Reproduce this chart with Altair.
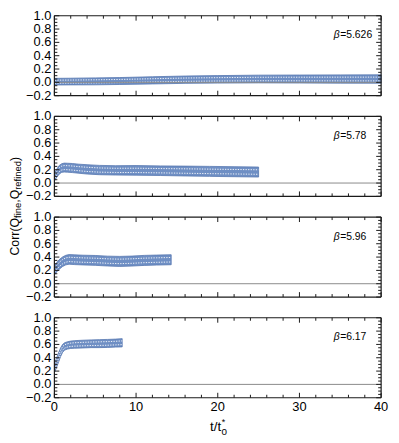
import altair as alt
import pandas as pd

# ---------------- data ----------------
betas = ["5.626", "5.78", "5.96", "6.17"]

t1 = [0.05, 2, 5, 8, 12, 16, 20, 25, 30, 35, 40]
m1 = [0.01, 0.012, 0.015, 0.02, 0.03, 0.04, 0.045, 0.05, 0.05, 0.05, 0.05]
e1 = [0.05, 0.05, 0.052, 0.052, 0.054, 0.055, 0.056, 0.058, 0.06, 0.062, 0.063]

t2 = [0.05, 0.3, 0.6, 0.9, 1.2, 1.6, 2.2, 3, 4, 5.5, 7.5, 10, 13, 16, 19, 22, 25]
m2 = [0.10, 0.15, 0.20, 0.225, 0.232, 0.23, 0.225, 0.215, 0.205, 0.195, 0.19,
      0.19, 0.185, 0.18, 0.175, 0.17, 0.165]
e2 = [0.06, 0.06, 0.065, 0.065, 0.067, 0.067, 0.068, 0.068, 0.07, 0.07, 0.07,
      0.072, 0.072, 0.074, 0.075, 0.075, 0.075]

t3 = [0.05, 0.3, 0.6, 1.0, 1.4, 1.8, 2.5, 3.5, 5, 6.5, 8, 9.5, 11, 12.5, 14.3]
m3 = [0.21, 0.25, 0.29, 0.33, 0.355, 0.365, 0.36, 0.355, 0.35, 0.34, 0.335,
      0.34, 0.35, 0.355, 0.36]
e3 = [0.07, 0.07, 0.072, 0.072, 0.072, 0.072, 0.073, 0.073, 0.074, 0.074,
      0.075, 0.075, 0.075, 0.075, 0.075]

t4 = [0.05, 0.25, 0.5, 0.75, 1.0, 1.25, 1.6, 2.0, 2.5, 3.5, 4.5, 5.5, 6.5, 7.5, 8.3]
m4 = [0.26, 0.32, 0.40, 0.48, 0.54, 0.57, 0.585, 0.595, 0.60, 0.605, 0.61,
      0.612, 0.615, 0.62, 0.625]
e4 = [0.07, 0.07, 0.07, 0.065, 0.06, 0.055, 0.055, 0.055, 0.057, 0.058, 0.058,
      0.06, 0.06, 0.06, 0.062]

x_major = [0, 10, 20, 30, 40]
x_minor = [2, 4, 6, 8, 12, 14, 16, 18, 22, 24, 26, 28, 32, 34, 36, 38]
y_major = [-0.2, 0.0, 0.2, 0.4, 0.6, 0.8, 1.0]
y_minor = [-0.15, -0.1, -0.05, 0.05, 0.1, 0.15, 0.25, 0.3, 0.35, 0.45, 0.5,
           0.55, 0.65, 0.7, 0.75, 0.85, 0.9, 0.95]

# ---------------- styling / layout ----------------
FONT = "Liberation Sans"
W = 331
PH = 81
GAP = 21
FR = "#1a1a1a"
BAND_FILL = "#6f8fc4"
BAND_STROKE = "#5677b0"

xs = alt.Scale(domain=[0, 40], nice=False, zero=False)
one = alt.Chart(pd.DataFrame({"d": [0]}))


def panel(i, t, m, e, beta):
    top = i * (PH + GAP)
    ys = alt.Scale(domain=[-0.2, 1.0], range=[top + PH, top], nice=False, zero=False)
    df = pd.DataFrame({"t": t, "m": m, "e": e})
    base = alt.Chart(df).transform_calculate(
        lo="datum.m - datum.e", hi="datum.m + datum.e",
        wl="datum.m - 0.45 * datum.e", wh="datum.m + 0.45 * datum.e")
    band = base.mark_area(color=BAND_FILL, stroke=BAND_STROKE, strokeWidth=0.8).encode(
        x=alt.X("t:Q", scale=xs, axis=None),
        y=alt.Y("lo:Q", scale=ys, axis=None),
        y2="hi:Q")
    dl = base.mark_line(color="white", strokeWidth=1, strokeDash=[1.3, 1.3], opacity=0.9).encode(
        x=alt.X("t:Q", axis=None), y=alt.Y("wl:Q", axis=None))
    dh = base.mark_line(color="white", strokeWidth=1, strokeDash=[1.3, 1.3], opacity=0.9).encode(
        x=alt.X("t:Q", axis=None), y=alt.Y("wh:Q", axis=None))
    zero = one.mark_rule(color="#8a8a8a", strokeWidth=1).encode(
        x=alt.value(0), x2=alt.value(W), y=alt.YDatum(0, axis=None))

    layers = [band, dl, dh, zero]
    # inward ticks
    for vals, ln in [(x_major, 5), (x_minor, 3)]:
        c = alt.Chart(pd.DataFrame({"v": vals}))
        layers.append(c.mark_rule(color=FR, strokeWidth=1, y2Offset=-ln).encode(
            x=alt.X("v:Q", axis=None), y=alt.YDatum(-0.2, axis=None), y2=alt.Y2Datum(-0.2)))
        layers.append(c.mark_rule(color=FR, strokeWidth=1, y2Offset=ln).encode(
            x=alt.X("v:Q", axis=None), y=alt.YDatum(1.0, axis=None), y2=alt.Y2Datum(1.0)))
    for vals, ln in [(y_major, 5), (y_minor, 3)]:
        c = alt.Chart(pd.DataFrame({"v": vals}))
        layers.append(c.mark_rule(color=FR, strokeWidth=1).encode(
            y=alt.Y("v:Q", axis=None), x=alt.value(0), x2=alt.value(ln)))
        layers.append(c.mark_rule(color=FR, strokeWidth=1).encode(
            y=alt.Y("v:Q", axis=None), x=alt.value(W), x2=alt.value(W - ln)))
    # frame
    for yv in (-0.2, 1.0):
        layers.append(one.mark_rule(color=FR, strokeWidth=1.2).encode(
            x=alt.value(0), x2=alt.value(W), y=alt.YDatum(yv, axis=None)))
    for xv in (0, W):
        layers.append(one.mark_rule(color=FR, strokeWidth=1.2).encode(
            x=alt.value(xv), y=alt.YDatum(-0.2, axis=None), y2=alt.Y2Datum(1.0)))
    # y tick labels
    layers.append(alt.Chart(pd.DataFrame({"v": y_major})).mark_text(
        align="right", baseline="middle", dx=-3, fontSize=13, font=FONT,
        color="black").encode(
        y=alt.Y("v:Q", axis=None), x=alt.value(0),
        text=alt.Text("v:Q", format=".1f")))
    # x tick labels (bottom panel only)
    if i == 3:
        layers.append(alt.Chart(pd.DataFrame({"v": x_major})).mark_text(
            align="center", baseline="top", dy=3, fontSize=13, font=FONT,
            color="black").encode(
            x=alt.X("v:Q", axis=None), y=alt.YDatum(-0.2, axis=None),
            text=alt.Text("v:Q", format="d")))
    # beta label
    layers.append(one.mark_text(text="β", fontStyle="italic", align="right",
                                baseline="middle", fontSize=10.5, font=FONT,
                                color="black").encode(
        x=alt.value(289), y=alt.value(top + 20)))
    layers.append(one.mark_text(text="=" + beta, align="left", baseline="middle",
                                fontSize=10.5, font=FONT, color="black").encode(
        x=alt.value(289.5), y=alt.value(top + 20)))
    return alt.layer(*layers)


def label(txt, x, y, size, angle=0, align="left"):
    kw = dict(text=txt, align=align, baseline="middle", fontSize=size, font=FONT,
              color="black")
    if angle:
        kw["angle"] = angle
    return one.mark_text(**kw).encode(x=alt.value(x), y=alt.value(y))


panels = [panel(0, t1, m1, e1, betas[0]),
          panel(1, t2, m2, e2, betas[1]),
          panel(2, t3, m3, e3, betas[2]),
          panel(3, t4, m4, e4, betas[3])]

titles = [
    label("Corr(Q", -40, 243, 12.5, 270),
    label("fine", -36.5, 204.8, 9.5, 270),
    label(",Q", -40, 189.5, 12.5, 270),
    label("refined", -36.5, 176.3, 9.5, 270),
    label(")", -40, 147.3, 12.5, 270),
    label("t/t", 157.7, 417, 13.5),
    label("*", 169.5, 411.5, 9),
    label("0", 169.3, 422, 10),
]

chart = alt.layer(*panels, *titles).resolve_scale(y="independent").properties(
    width=W,
    height=3 * (PH + GAP) + PH,
    padding={"left": 47, "top": 5, "right": 10, "bottom": 40},
    autosize=alt.AutoSizeParams(type="none"),
).configure_view(stroke=None)

chart.save("out.html", embed_options={"renderer": "svg", "actions": False})
